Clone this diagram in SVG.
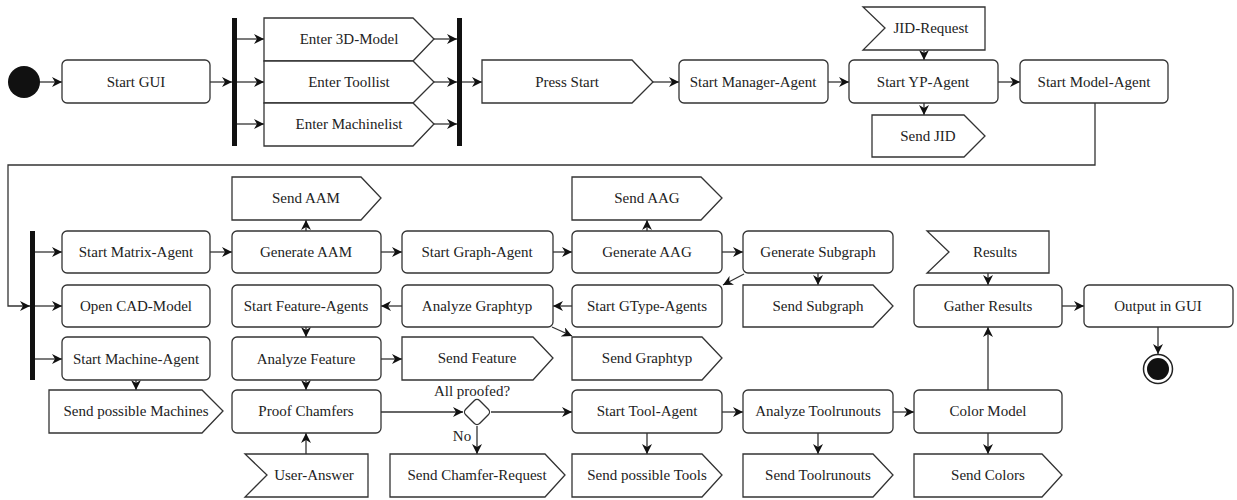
<svg xmlns="http://www.w3.org/2000/svg" width="1237" height="500" viewBox="0 0 1237 500">
<style>
.n{fill:#fff;stroke:#333;stroke-width:1.3}
.t{font-family:"Liberation Serif","Times New Roman",serif;font-size:15px;fill:#222;text-anchor:middle}
.c{fill:none;stroke:#333;stroke-width:1.3}
.a{marker-end:url(#ah)}
.bar{fill:#111}
</style>
<defs>
<marker id="ah" viewBox="0 0 10 10" refX="10" refY="5" markerWidth="10" markerHeight="10" markerUnits="userSpaceOnUse" orient="auto">
<path d="M0,0 L10,5 L0,10 L3,5 Z" fill="#111"/>
</marker>
</defs>
<rect width="1237" height="500" fill="#fff"/>

<g id="connectors">
<line class="c a" x1="40" y1="82" x2="62" y2="82"/>
<line class="c a" x1="210" y1="82" x2="232" y2="82"/>
<line class="c a" x1="237" y1="39" x2="264" y2="39"/>
<line class="c a" x1="237" y1="82" x2="264" y2="82"/>
<line class="c a" x1="237" y1="124" x2="264" y2="124"/>
<line class="c a" x1="434" y1="39" x2="457" y2="39"/>
<line class="c a" x1="434" y1="82" x2="457" y2="82"/>
<line class="c a" x1="434" y1="124" x2="457" y2="124"/>
<line class="c a" x1="462" y1="82" x2="482" y2="82"/>
<line class="c a" x1="653" y1="82" x2="679" y2="82"/>
<line class="c a" x1="828" y1="82" x2="849" y2="82"/>
<line class="c a" x1="924" y1="50" x2="924" y2="60"/>
<line class="c a" x1="924" y1="103" x2="924" y2="115"/>
<line class="c a" x1="998" y1="82" x2="1020" y2="82"/>
<polyline class="c a" points="1095,103 1095,165 8,165 8,306 30,306"/>
<line class="c a" x1="35" y1="252" x2="62" y2="252"/>
<line class="c a" x1="35" y1="306" x2="62" y2="306"/>
<line class="c a" x1="35" y1="359" x2="62" y2="359"/>
<line class="c a" x1="210" y1="252" x2="232" y2="252"/>
<line class="c a" x1="306" y1="231" x2="306" y2="220"/>
<line class="c a" x1="381" y1="252" x2="402" y2="252"/>
<line class="c a" x1="553" y1="252" x2="572" y2="252"/>
<line class="c a" x1="647" y1="231" x2="647" y2="220"/>
<line class="c a" x1="722" y1="252" x2="743" y2="252"/>
<line class="c a" x1="744" y1="274" x2="723" y2="285"/>
<line class="c a" x1="818" y1="273" x2="818" y2="285"/>
<line class="c a" x1="572" y1="306" x2="553" y2="306"/>
<line class="c a" x1="402" y1="306" x2="381" y2="306"/>
<line class="c a" x1="552" y1="327" x2="572" y2="336"/>
<line class="c a" x1="306" y1="327" x2="306" y2="337"/>
<line class="c a" x1="381" y1="359" x2="402" y2="359"/>
<line class="c a" x1="306" y1="380" x2="306" y2="390"/>
<line class="c a" x1="136" y1="380" x2="136" y2="390"/>
<line class="c a" x1="381" y1="412" x2="463" y2="412"/>
<line class="c a" x1="306" y1="454" x2="306" y2="433"/>
<line class="c a" x1="491" y1="412" x2="572" y2="412"/>
<line class="c a" x1="477" y1="426" x2="477" y2="454"/>
<line class="c a" x1="647" y1="433" x2="647" y2="454"/>
<line class="c a" x1="722" y1="412" x2="743" y2="412"/>
<line class="c a" x1="818" y1="433" x2="818" y2="454"/>
<line class="c a" x1="893" y1="412" x2="914" y2="412"/>
<line class="c a" x1="988" y1="433" x2="988" y2="454"/>
<line class="c a" x1="988" y1="390" x2="988" y2="327"/>
<line class="c a" x1="988" y1="273" x2="988" y2="285"/>
<line class="c a" x1="1062" y1="306" x2="1084" y2="306"/>
<line class="c a" x1="1158" y1="327" x2="1158" y2="354"/>
</g>

<g id="start"><circle cx="24" cy="82" r="16" fill="#111"/></g>
<g id="startGUI"><rect class="n" x="62" y="60" width="148" height="43" rx="5"/><text class="t" x="136" y="87">Start GUI</text></g>
<g id="fork1"><rect class="bar" x="232" y="18" width="5" height="128"/></g>
<g id="enter3d"><polygon class="n" points="264,18 413,18 434,39 413,61 264,61"/><text class="t" x="349" y="44">Enter 3D-Model</text></g>
<g id="enterTool"><polygon class="n" points="264,61 413,61 434,82 413,103 264,103"/><text class="t" x="349" y="87">Enter Toollist</text></g>
<g id="enterMachine"><polygon class="n" points="264,103 413,103 434,124 413,146 264,146"/><text class="t" x="349" y="129">Enter Machinelist</text></g>
<g id="join1"><rect class="bar" x="457" y="18" width="5" height="128"/></g>
<g id="pressStart"><polygon class="n" points="482,60 632,60 653,82 632,103 482,103"/><text class="t" x="567" y="87">Press Start</text></g>
<g id="managerAgent"><rect class="n" x="679" y="60" width="149" height="43" rx="5"/><text class="t" x="753" y="87">Start Manager-Agent</text></g>
<g id="jidRequest"><polygon class="n" points="863,7 985,7 985,50 863,50 885,28"/><text class="t" x="931" y="33">JID-Request</text></g>
<g id="ypAgent"><rect class="n" x="849" y="60" width="149" height="43" rx="5"/><text class="t" x="923" y="87">Start YP-Agent</text></g>
<g id="sendJID"><polygon class="n" points="872,115 964,115 985,136 964,157 872,157"/><text class="t" x="928" y="141">Send JID</text></g>
<g id="modelAgent"><rect class="n" x="1020" y="60" width="148" height="43" rx="5"/><text class="t" x="1094" y="87">Start Model-Agent</text></g>

<g id="fork2"><rect class="bar" x="30" y="231" width="5" height="149"/></g>
<g id="matrixAgent"><rect class="n" x="62" y="231" width="148" height="42" rx="5"/><text class="t" x="136" y="257">Start Matrix-Agent</text></g>
<g id="sendAAM"><polygon class="n" points="232,177 361,177 381,198 361,220 232,220"/><text class="t" x="306" y="203">Send AAM</text></g>
<g id="generateAAM"><rect class="n" x="232" y="231" width="149" height="42" rx="5"/><text class="t" x="306" y="257">Generate AAM</text></g>
<g id="graphAgent"><rect class="n" x="402" y="231" width="151" height="42" rx="5"/><text class="t" x="477" y="257">Start Graph-Agent</text></g>
<g id="sendAAG"><polygon class="n" points="572,177 701,177 722,198 701,220 572,220"/><text class="t" x="647" y="203">Send AAG</text></g>
<g id="generateAAG"><rect class="n" x="572" y="231" width="150" height="42" rx="5"/><text class="t" x="647" y="257">Generate AAG</text></g>
<g id="generateSubgraph"><rect class="n" x="743" y="231" width="150" height="42" rx="5"/><text class="t" x="818" y="257">Generate Subgraph</text></g>
<g id="results"><polygon class="n" points="927,231 1049,231 1049,273 927,273 949,252"/><text class="t" x="995" y="257">Results</text></g>

<g id="openCAD"><rect class="n" x="62" y="285" width="148" height="42" rx="5"/><text class="t" x="136" y="311">Open CAD-Model</text></g>
<g id="featureAgents"><rect class="n" x="232" y="285" width="149" height="42" rx="5"/><text class="t" x="306" y="311">Start Feature-Agents</text></g>
<g id="analyzeGraphtyp"><rect class="n" x="402" y="285" width="151" height="42" rx="5"/><text class="t" x="477" y="311">Analyze Graphtyp</text></g>
<g id="gtypeAgents"><rect class="n" x="572" y="285" width="150" height="42" rx="5"/><text class="t" x="647" y="311">Start GType-Agents</text></g>
<g id="sendSubgraph"><polygon class="n" points="743,285 873,285 893,306 873,327 743,327"/><text class="t" x="818" y="311">Send Subgraph</text></g>
<g id="gatherResults"><rect class="n" x="914" y="285" width="148" height="42" rx="5"/><text class="t" x="988" y="311">Gather Results</text></g>
<g id="outputGUI"><rect class="n" x="1084" y="285" width="149" height="42" rx="5"/><text class="t" x="1158" y="311">Output in GUI</text></g>
<g id="end"><circle cx="1158" cy="369" r="14.5" fill="#fff" stroke="#222" stroke-width="1.5"/><circle cx="1158" cy="369" r="11" fill="#111"/></g>

<g id="machineAgent"><rect class="n" x="62" y="337" width="148" height="43" rx="5"/><text class="t" x="136" y="364">Start Machine-Agent</text></g>
<g id="analyzeFeature"><rect class="n" x="232" y="337" width="149" height="43" rx="5"/><text class="t" x="306" y="364">Analyze Feature</text></g>
<g id="sendFeature"><polygon class="n" points="402,337 533,337 553,358 533,380 402,380"/><text class="t" x="477" y="363">Send Feature</text></g>
<g id="sendGraphtyp"><polygon class="n" points="572,337 702,337 722,358 702,380 572,380"/><text class="t" x="647" y="363">Send Graphtyp</text></g>

<g id="sendMachines"><polygon class="n" points="49,390 202,390 223,411 202,433 49,433"/><text class="t" x="136" y="416">Send possible Machines</text></g>
<g id="proofChamfers"><rect class="n" x="232" y="390" width="149" height="43" rx="5"/><text class="t" x="306" y="416">Proof Chamfers</text></g>
<g id="decision"><rect class="n" x="467" y="402" width="20" height="20" rx="4" transform="rotate(45 477 412)"/><text class="t" x="472" y="396">All proofed?</text><text class="t" x="462" y="441">No</text></g>
<g id="toolAgent"><rect class="n" x="572" y="390" width="150" height="43" rx="5"/><text class="t" x="647" y="416">Start Tool-Agent</text></g>
<g id="analyzeToolrunouts"><rect class="n" x="743" y="390" width="150" height="43" rx="5"/><text class="t" x="818" y="416">Analyze Toolrunouts</text></g>
<g id="colorModel"><rect class="n" x="914" y="390" width="148" height="43" rx="5"/><text class="t" x="988" y="416">Color Model</text></g>

<g id="userAnswer"><polygon class="n" points="245,454 368,454 368,497 245,497 267,475"/><text class="t" x="314" y="480">User-Answer</text></g>
<g id="sendChamferRequest"><polygon class="n" points="390,454 545,454 565,475 545,497 390,497"/><text class="t" x="477" y="480">Send Chamfer-Request</text></g>
<g id="sendTools"><polygon class="n" points="572,454 702,454 722,475 702,497 572,497"/><text class="t" x="647" y="480">Send possible Tools</text></g>
<g id="sendToolrunouts"><polygon class="n" points="743,454 873,454 893,475 873,497 743,497"/><text class="t" x="818" y="480">Send Toolrunouts</text></g>
<g id="sendColors"><polygon class="n" points="914,454 1042,454 1062,475 1042,497 914,497"/><text class="t" x="988" y="480">Send Colors</text></g>
</svg>
